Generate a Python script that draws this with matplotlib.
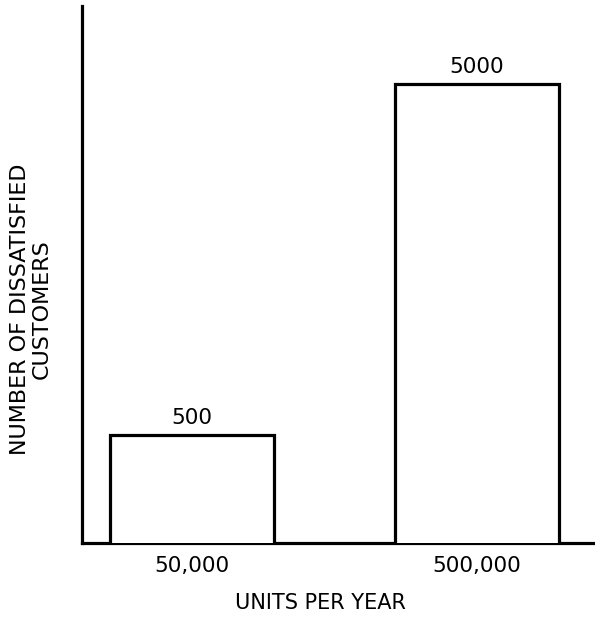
import matplotlib
matplotlib.use("Agg")
import matplotlib.pyplot as plt

categories = ["50,000", "500,000"]
values = [500, 5000]
value_labels = ["500", "5000"]

W, H = 595, 617
fig = plt.figure(figsize=(W / 100, H / 100), dpi=100)
ax = fig.add_axes([82 / W, 1 - 543 / H, (595 - 82) / W, (543 - 6) / H])

x = list(range(len(categories)))
ax.set_yscale("log")
bars = ax.bar(x, values, width=0.575, bottom=0, facecolor="white",
              edgecolor="black", linewidth=2.3, zorder=3)
ax.set_xlim(-0.386, 1.414)
ax.set_ylim(10 ** 2.391, 10 ** 3.921)

for spine in ["top", "right"]:
    ax.spines[spine].set_visible(False)
for spine in ["left", "bottom"]:
    ax.spines[spine].set_linewidth(2.3)

ax.set_yticks([])
ax.yaxis.set_minor_locator(matplotlib.ticker.NullLocator())
ax.set_xticks(x)
ax.set_xticklabels(categories, fontsize=15.5)
ax.tick_params(axis="x", length=0, pad=9)

for xi, v, lab in zip(x, values, value_labels):
    ax.annotate(lab, (xi, v), xytext=(0, 5), textcoords="offset points",
                ha="center", va="bottom", fontsize=15.5)

fig.text(320 / W, 1 - 603 / H, "UNITS PER YEAR", ha="center", va="center", fontsize=15)
fig.text(31 / W, 1 - 309 / H, "NUMBER OF DISSATISFIED\nCUSTOMERS", rotation=90,
         ha="center", va="center", fontsize=16, multialignment="center",
         linespacing=1.15)

fig.savefig("out.png", dpi=100)
